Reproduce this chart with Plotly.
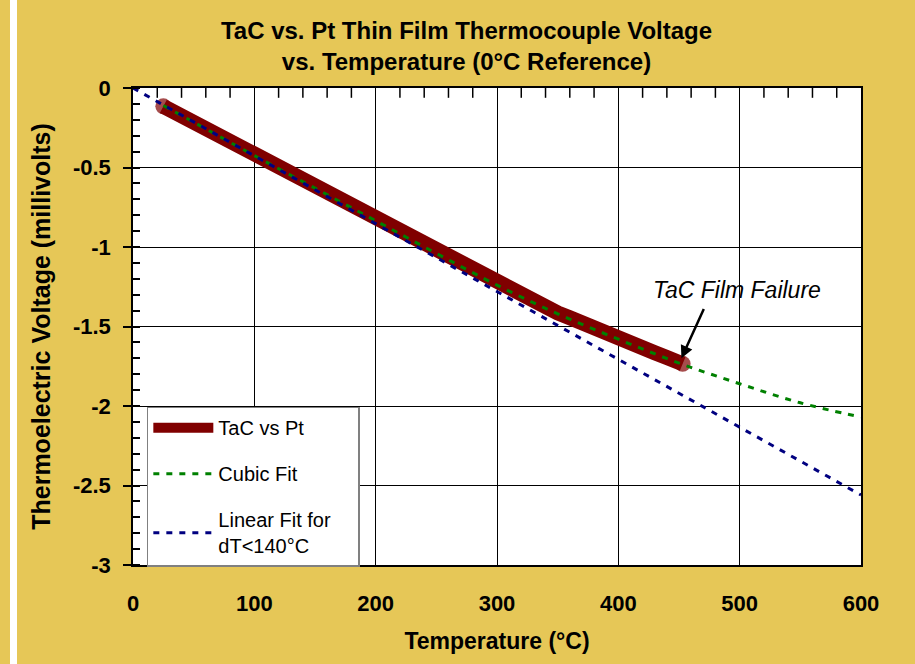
import plotly.graph_objects as go

# TaC vs Pt measured data (temperature °C, voltage mV)
temp_data = [25, 30, 40, 50, 60, 70, 80, 90, 100, 110, 120, 130, 140, 150, 160, 170, 180, 190,
             200, 210, 220, 230, 240, 250, 260, 270, 280, 290, 300, 310, 320, 330, 340, 350,
             360, 370, 380, 390, 400, 410, 420, 430, 440, 450, 453]
volt_data = [-0.115, -0.135, -0.175, -0.215, -0.255, -0.295, -0.335, -0.375, -0.42, -0.46,
             -0.50, -0.545, -0.585, -0.63, -0.67, -0.71, -0.75, -0.79, -0.835, -0.875,
             -0.92, -0.96, -1.00, -1.04, -1.075, -1.115, -1.155, -1.20, -1.24, -1.275,
             -1.31, -1.345, -1.38, -1.415, -1.445, -1.48, -1.51, -1.545, -1.57, -1.60,
             -1.635, -1.665, -1.695, -1.725, -1.735]

# Cubic fit
temp_cubic = [25, 50, 100, 150, 200, 250, 300, 350, 400, 450, 500, 550, 600]
volt_cubic = [-0.11, -0.215, -0.425, -0.63, -0.835, -1.04, -1.24, -1.42, -1.58, -1.73, -1.86, -1.98, -2.07]

# Linear fit for dT<140°C
temp_linear = [0, 600]
volt_linear = [0.0, -2.56]

x_ticks = [0, 100, 200, 300, 400, 500, 600]
x_minor_ticks = [20, 40, 60, 80, 120, 140, 160, 180, 220, 240, 260, 280, 320, 340, 360, 380,
                 420, 440, 460, 480, 520, 540, 560, 580]
y_ticks = [0, -0.5, -1, -1.5, -2, -2.5, -3]
y_ticklabels = ["0", "-0.5", "-1", "-1.5", "-2", "-2.5", "-3"]
y_top = 0

# annotation (failure point and label position)
fail_T, fail_V = 452, -1.70
arrow_tail_T, arrow_tail_V = 471, -1.38
label_T, label_V = 498, -1.27

GOLD = "#E6C757"
FONT = "Liberation Sans, Arial, sans-serif"

# round caps only at the two ends of the thick data line
end_sizes = [16] + [0] * (len(temp_data) - 2) + [16]

fig = go.Figure()
fig.add_trace(go.Scatter(
    x=temp_data, y=volt_data, mode="lines+markers", name="TaC vs Pt",
    line=dict(color="#800000", width=15),
    marker=dict(color="#800000", size=end_sizes, line=dict(width=0)),
))
fig.add_trace(go.Scatter(
    x=temp_cubic, y=volt_cubic, mode="lines", name="Cubic Fit", line_shape="spline",
    line=dict(color="#008000", width=3, dash="6px,7px"),
))
fig.add_trace(go.Scatter(
    x=temp_linear, y=volt_linear, mode="lines",
    name="Linear Fit for&nbsp;&nbsp;&nbsp;&nbsp;<br>dT<140°C",
    line=dict(color="#000080", width=3, dash="6px,7px"),
))
# minor tick marks along the top edge (half of each marker is clipped by the plot area)
fig.add_trace(go.Scatter(
    x=x_minor_ticks, y=[y_top] * len(x_minor_ticks), mode="markers",
    marker=dict(symbol="line-ns", size=14, line=dict(color="black", width=1.5)),
    cliponaxis=True, showlegend=False, hoverinfo="skip",
))

fig.add_annotation(
    x=fail_T, y=fail_V, ax=arrow_tail_T, ay=arrow_tail_V, axref="x", ayref="y",
    text="", showarrow=True, arrowhead=2, arrowsize=1, arrowwidth=2.5, arrowcolor="black",
)
fig.add_annotation(
    x=label_T, y=label_V, text="<i>TaC Film Failure</i>", showarrow=False,
    font=dict(size=23, color="black", family=FONT), xanchor="center", yanchor="middle",
)

fig.add_shape(type="rect", xref="paper", yref="paper",
              x0=(10 - 133) / 728, x1=(17 - 133) / 728, y0=-1, y1=2,
              fillcolor="white", line_width=0, layer="below")

fig.update_layout(
    width=915, height=664,
    paper_bgcolor=GOLD, plot_bgcolor="white",
    margin=dict(l=133, r=54, t=88, b=99),
    title=dict(text="<b>TaC vs. Pt Thin Film Thermocouple Voltage<br>vs. Temperature (0°C Reference)</b>",
               x=466.5 / 915, xanchor="center", yref="container", y=1 - 39 / 664, yanchor="middle",
               font=dict(size=24, color="black", family=FONT)),
    font=dict(family=FONT, color="black"),
    showlegend=True,
    legend=dict(x=0.019, y=0.332, xanchor="left", yanchor="top",
                bgcolor="white", bordercolor="#808080", borderwidth=1.5,
                font=dict(size=20, color="black", family=FONT),
                tracegroupgap=17, itemwidth=60),
    legend_traceorder="grouped",
    xaxis=dict(
        range=[0, 600], tickvals=x_ticks, ticks="",
        showgrid=True, gridcolor="black", gridwidth=1,
        showline=True, linecolor="black", linewidth=1.5, mirror=True,
        tickfont=dict(size=22, family=FONT, weight="bold"), ticklabelstandoff=18,
        title=dict(text="<b>Temperature (°C)</b>", font=dict(size=23, family=FONT), standoff=18),
        zeroline=False,
    ),
    yaxis=dict(
        range=[-3, 0], tickvals=y_ticks, ticktext=y_ticklabels,
        ticks="outside", ticklen=8, tickcolor="black", tickwidth=1.5,
        showgrid=True, gridcolor="black", gridwidth=1,
        showline=True, linecolor="black", linewidth=1.5, mirror=True,
        tickfont=dict(size=22, family=FONT, weight="bold"), ticklabelstandoff=8,
        title=dict(text="<b>Thermoelectric Voltage (millivolts)</b>", font=dict(size=25, family=FONT), standoff=15),
        minor=dict(dtick=0.1, ticks="inside", ticklen=7, tickcolor="black", tickwidth=1.5, showgrid=False),
        zeroline=False,
    ),
)

for i, tr in enumerate(fig.data):
    tr.legendgroup = "g%d" % i

fig.write_html("out.html", config={"displayModeBar": False},
               post_script="document.body.style.margin='0px';")
